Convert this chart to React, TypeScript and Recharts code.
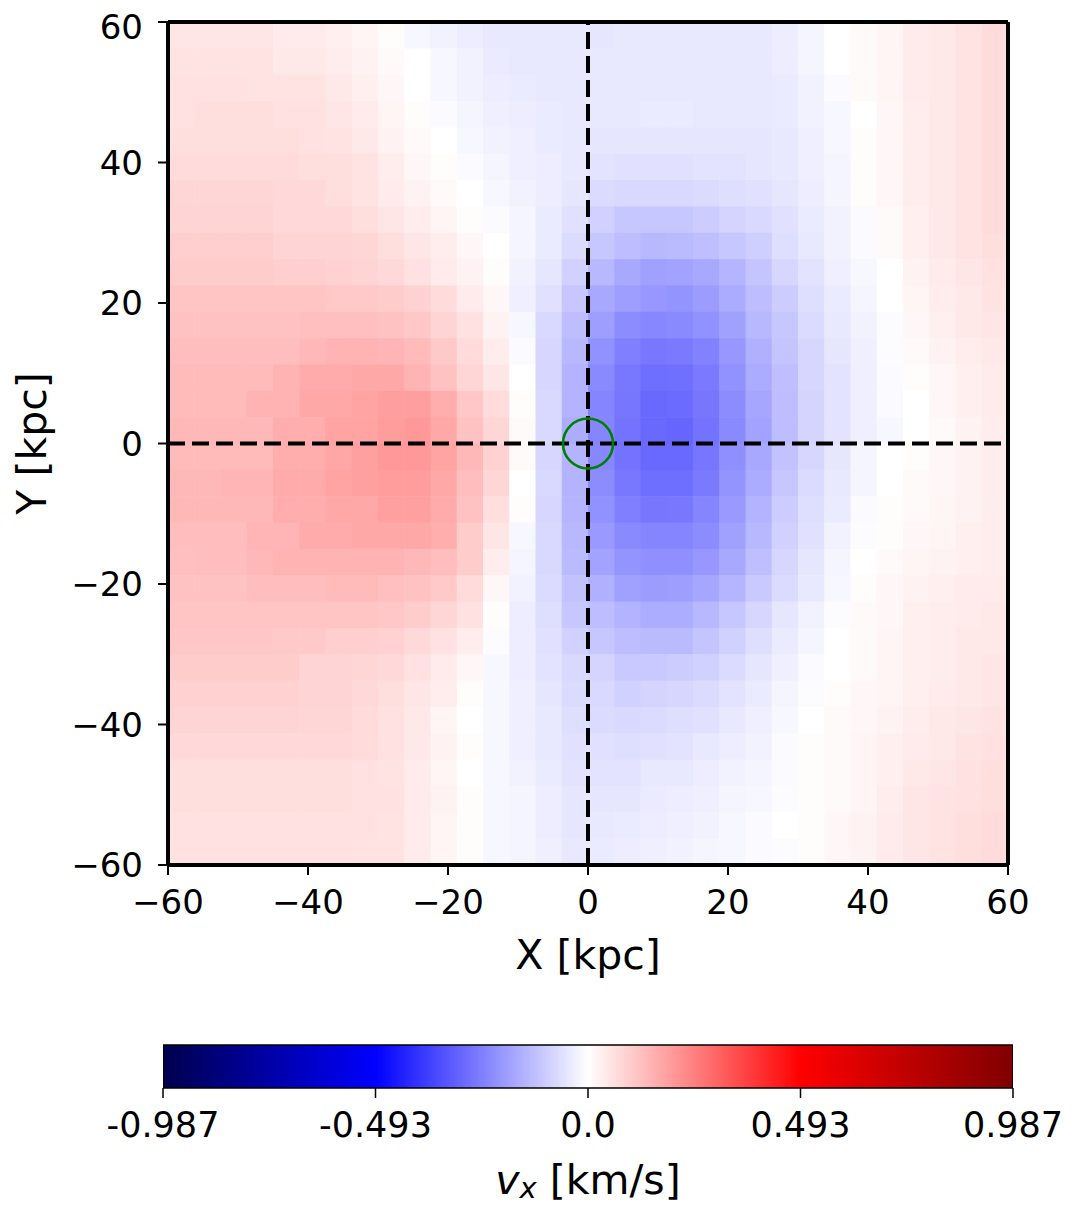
import React from 'react';
import {
  ScatterChart,
  Scatter,
  ComposedChart,
  Bar,
  XAxis,
  YAxis,
  ReferenceLine,
  ReferenceDot,
  Label,
} from 'recharts';

const FONT = '"DejaVu Sans", "Liberation Sans", sans-serif';

// colour limits of the map (km/s)
const V_LIM = 0.987;

// axis ticks (kpc)
const axisTicks = [-60, -40, -20, 0, 20, 40, 60];

// colorbar ticks
const cbTicks = [-0.987, -0.4935, 0, 0.4935, 0.987];
const cbTickLabels = ['-0.987', '-0.493', '0.0', '0.493', '0.987'];
const cbRange = [{ name: 'vx', range: [-0.987, 0.987] }];

// v_x map in m/s, 32 x 32 bins, first row is the top (Y = +60), first column X = -60
const vxRows = [
  [49, 49, 49, 49, 39, 39, 30, 20, 5, -15, -25, -35, -44, -44, -44, -44, -49, -44, -44, -44, -44, -44, -44, -35, -20, 0, 10, 20, 39, 44, 54, 69],
  [54, 54, 54, 54, 44, 44, 35, 25, 10, 0, -15, -25, -39, -44, -44, -44, -44, -44, -44, -44, -44, -44, -44, -35, -20, 0, 10, 20, 39, 44, 54, 69],
  [59, 59, 59, 54, 54, 54, 44, 30, 15, 0, -15, -25, -35, -39, -44, -44, -44, -44, -44, -44, -44, -44, -44, -39, -25, -10, 10, 20, 39, 44, 54, 69],
  [59, 64, 64, 64, 59, 59, 49, 39, 20, 5, -10, -20, -30, -35, -39, -44, -44, -44, -39, -39, -44, -44, -44, -39, -25, -15, 0, 15, 35, 44, 54, 69],
  [64, 64, 64, 64, 64, 59, 54, 44, 25, 10, 0, -15, -25, -30, -39, -44, -49, -49, -49, -49, -49, -49, -49, -44, -30, -15, 5, 15, 35, 44, 54, 69],
  [69, 69, 69, 69, 69, 64, 64, 54, 35, 15, 5, -10, -20, -30, -35, -44, -54, -59, -59, -59, -54, -54, -49, -44, -30, -20, 5, 15, 35, 44, 54, 69],
  [79, 79, 79, 79, 74, 74, 64, 54, 39, 25, 10, 0, -15, -25, -35, -49, -69, -74, -74, -74, -69, -64, -59, -49, -35, -20, 5, 15, 35, 44, 54, 69],
  [84, 84, 84, 84, 74, 74, 74, 64, 49, 35, 20, 5, -10, -20, -39, -59, -89, -109, -109, -109, -99, -84, -74, -59, -39, -25, -10, 10, 30, 44, 54, 69],
  [94, 94, 94, 94, 84, 84, 84, 79, 64, 49, 35, 15, 0, -20, -39, -69, -109, -128, -138, -133, -123, -109, -94, -64, -44, -25, -10, 10, 30, 44, 54, 64],
  [99, 99, 99, 99, 94, 94, 89, 84, 74, 59, 39, 25, 5, -25, -49, -89, -138, -168, -183, -178, -168, -143, -114, -79, -54, -30, -15, 0, 25, 39, 49, 59],
  [114, 114, 114, 114, 114, 114, 104, 104, 99, 89, 69, 39, 15, -30, -59, -109, -168, -188, -202, -207, -192, -163, -128, -99, -64, -39, -20, 0, 20, 35, 44, 54],
  [118, 118, 118, 118, 118, 123, 123, 123, 118, 109, 84, 59, 25, -15, -74, -128, -188, -222, -232, -227, -212, -183, -138, -109, -69, -44, -25, -5, 15, 30, 44, 49],
  [128, 128, 128, 128, 128, 138, 148, 148, 143, 133, 104, 69, 35, -10, -79, -138, -212, -247, -262, -257, -242, -202, -153, -114, -79, -49, -30, -5, 10, 25, 35, 44],
  [133, 133, 133, 133, 148, 163, 163, 168, 168, 148, 118, 79, 49, 0, -79, -148, -227, -262, -281, -276, -257, -212, -163, -123, -79, -54, -30, -10, 5, 15, 30, 39],
  [133, 133, 133, 148, 148, 168, 168, 178, 188, 188, 158, 109, 69, 5, -74, -148, -237, -266, -291, -286, -266, -222, -173, -128, -84, -54, -30, -10, 0, 15, 30, 39],
  [138, 138, 138, 138, 158, 158, 178, 178, 192, 197, 168, 118, 79, 10, -74, -158, -237, -271, -291, -296, -271, -227, -178, -128, -84, -54, -30, -15, 0, 10, 25, 35],
  [133, 133, 133, 133, 158, 158, 173, 183, 197, 197, 178, 138, 89, 10, -79, -148, -232, -271, -291, -291, -266, -217, -168, -118, -79, -49, -20, 0, 5, 15, 25, 35],
  [138, 138, 143, 143, 163, 163, 178, 183, 192, 192, 168, 128, 79, 0, -74, -148, -222, -262, -281, -281, -257, -207, -163, -109, -69, -44, -20, 0, 10, 15, 25, 35],
  [138, 138, 138, 138, 158, 158, 168, 168, 183, 183, 163, 118, 64, 5, -79, -143, -212, -247, -266, -262, -237, -197, -148, -99, -64, -39, -10, 5, 10, 20, 25, 35],
  [128, 128, 128, 143, 143, 163, 163, 168, 168, 168, 158, 99, 49, -15, -74, -138, -197, -227, -237, -237, -222, -183, -138, -89, -59, -25, -5, 5, 15, 20, 30, 35],
  [123, 128, 128, 138, 148, 148, 148, 148, 148, 138, 128, 99, 35, -20, -74, -133, -178, -207, -217, -217, -202, -168, -123, -79, -49, -20, 0, 10, 20, 25, 30, 35],
  [118, 118, 118, 128, 128, 128, 133, 133, 123, 118, 104, 69, 15, -25, -69, -118, -153, -183, -192, -188, -173, -143, -104, -69, -44, -15, 5, 15, 25, 30, 39, 39],
  [114, 114, 114, 114, 114, 114, 114, 114, 109, 99, 79, 59, 5, -35, -64, -109, -128, -148, -158, -158, -138, -109, -79, -49, -25, -5, 10, 15, 30, 35, 39, 44],
  [109, 109, 109, 109, 104, 104, 94, 94, 89, 74, 59, 35, -5, -35, -59, -89, -109, -128, -133, -133, -114, -89, -64, -39, -20, 0, 10, 20, 30, 35, 44, 44],
  [99, 99, 99, 99, 99, 84, 84, 79, 74, 59, 39, 15, -15, -35, -54, -74, -84, -104, -104, -99, -89, -69, -49, -30, -10, 0, 10, 20, 30, 35, 44, 49],
  [89, 89, 89, 89, 89, 84, 84, 74, 64, 49, 35, 5, -15, -30, -49, -69, -74, -89, -84, -79, -69, -54, -39, -20, -5, 5, 15, 20, 30, 39, 44, 49],
  [84, 84, 84, 84, 84, 79, 79, 69, 59, 44, 20, 0, -15, -30, -44, -64, -69, -74, -69, -64, -59, -44, -30, -15, 0, 10, 15, 25, 35, 44, 49, 54],
  [74, 74, 74, 74, 74, 74, 74, 69, 59, 44, 25, 5, -15, -30, -44, -59, -59, -64, -59, -54, -44, -35, -25, -10, 5, 10, 20, 30, 39, 44, 54, 59],
  [64, 64, 64, 64, 64, 64, 64, 59, 54, 39, 20, 0, -15, -25, -39, -54, -54, -54, -44, -44, -35, -25, -20, -10, 5, 10, 20, 30, 44, 49, 59, 64],
  [64, 64, 64, 64, 64, 64, 64, 59, 59, 39, 25, 5, -15, -20, -35, -49, -49, -49, -39, -35, -30, -20, -15, -5, 5, 10, 20, 35, 49, 54, 59, 64],
  [59, 59, 59, 59, 59, 59, 59, 59, 54, 39, 20, 5, -15, -20, -35, -49, -44, -39, -35, -30, -25, -15, -10, 0, 5, 15, 25, 39, 49, 54, 64, 69],
  [59, 59, 59, 59, 59, 59, 59, 54, 54, 39, 20, 5, -15, -20, -30, -44, -39, -35, -30, -25, -20, -15, -10, -5, 5, 15, 25, 39, 49, 54, 64, 69],
];

const N_BINS = vxRows.length;
const binCenters = Array.from({ length: N_BINS }, (_, i) => -60 + ((i + 0.5) * 120) / N_BINS);

const cells = vxRows.flatMap((row, r) =>
  row.map((v, c) => ({ x: binCenters[c], y: binCenters[N_BINS - 1 - r], vx: v / 1000 }))
);

// matplotlib "seismic"
const SEISMIC = [
  [0, 0, 0.3],
  [0, 0, 1],
  [1, 1, 1],
  [1, 0, 0],
  [0.5, 0, 0],
];

function seismic(v: number) {
  const t = Math.min(1, Math.max(0, (v + V_LIM) / (2 * V_LIM)));
  const p = t * 4;
  const i = Math.min(3, Math.floor(p));
  const f = p - i;
  const a = SEISMIC[i];
  const b = SEISMIC[i + 1];
  const ch = (k: number) => Math.round(255 * (a[k] + (b[k] - a[k]) * f));
  return `rgb(${ch(0)},${ch(1)},${ch(2)})`;
}

// main chart geometry
const W = 1040;
const H = 980;
const M = { top: 14, right: 40, bottom: 0, left: 0 };
const Y_AXIS_W = 160;
const X_AXIS_H = 123;
const CELL_W = (W - M.left - M.right - Y_AXIS_W) / N_BINS;
const CELL_H = (H - M.top - M.bottom - X_AXIS_H) / N_BINS;

const fmtKpc = (v: number) => String(v).replace('-', '\u2212');

function HeatCell(props: any) {
  const { cx, cy, payload } = props;
  if (cx == null || cy == null) return null;
  return (
    <rect
      x={cx - CELL_W / 2}
      y={cy - CELL_H / 2}
      width={CELL_W + 0.6}
      height={CELL_H + 0.6}
      fill={seismic(payload.vx)}
    />
  );
}

const tickStyle = { fill: '#000', fontSize: 34, fontFamily: FONT };

export default function App() {
  return (
    <div style={{ width: 1061, fontFamily: FONT }}>
      <ScatterChart width={W} height={H} margin={M}>
        <XAxis
          type="number"
          dataKey="x"
          domain={[-60, 60]}
          ticks={axisTicks}
          allowDataOverflow
          height={X_AXIS_H}
          tick={tickStyle}
          tickFormatter={fmtKpc}
          tickSize={10}
          tickMargin={15}
          tickLine={{ stroke: '#000', strokeWidth: 2 }}
          axisLine={{ stroke: '#000', strokeWidth: 3.5 }}
        >
          <Label
            content={({ viewBox }: any) => (
              <text
                x={viewBox.x + viewBox.width / 2}
                y={viewBox.y + 90}
                textAnchor="middle"
                dominantBaseline="central"
                fontSize={41}
                fontFamily={FONT}
                fill="#000"
              >
                X [kpc]
              </text>
            )}
          />
        </XAxis>
        <YAxis
          type="number"
          dataKey="y"
          domain={[-60, 60]}
          ticks={axisTicks}
          allowDataOverflow
          width={Y_AXIS_W}
          tick={tickStyle}
          tickFormatter={fmtKpc}
          tickSize={10}
          tickMargin={15}
          tickLine={{ stroke: '#000', strokeWidth: 2 }}
          axisLine={{ stroke: '#000', strokeWidth: 3.5 }}
        >
          <Label
            content={({ viewBox }: any) => {
              const cx = viewBox.x + 24;
              const cy = viewBox.y + viewBox.height / 2;
              return (
                <text
                  x={cx}
                  y={cy}
                  transform={`rotate(-90 ${cx} ${cy})`}
                  textAnchor="middle"
                  dominantBaseline="central"
                  fontSize={41}
                  fontFamily={FONT}
                  fill="#000"
                >
                  Y [kpc]
                </text>
              );
            }}
          />
        </YAxis>
        <Scatter data={cells} shape={HeatCell} isAnimationActive={false} />
        <ReferenceLine y={0} stroke="#000" strokeWidth={4} strokeDasharray="17 7" zIndex={1000} />
        <ReferenceLine x={0} stroke="#000" strokeWidth={4} strokeDasharray="17 7" zIndex={1000} />
        <ReferenceDot x={0} y={0} r={25} fill="none" stroke="#008000" strokeWidth={2.6} zIndex={1000} />
        <ReferenceLine y={60} stroke="#000" strokeWidth={4} zIndex={1000} />
        <ReferenceLine y={-60} stroke="#000" strokeWidth={4} zIndex={1000} />
        <ReferenceLine x={-60} stroke="#000" strokeWidth={4} zIndex={1000} />
        <ReferenceLine x={60} stroke="#000" strokeWidth={4} zIndex={1000} />
      </ScatterChart>

      <ComposedChart
        width={1061}
        height={222}
        layout="vertical"
        data={cbRange}
        barCategoryGap={0}
        margin={{ top: 57, right: 56, left: 155, bottom: 0 }}
      >
        <defs>
          <linearGradient id="seismicGrad" x1="0" y1="0" x2="1" y2="0">
            {SEISMIC.map((c, i) => (
              <stop
                key={i}
                offset={`${i * 25}%`}
                stopColor={`rgb(${c.map((k) => Math.round(k * 255)).join(',')})`}
              />
            ))}
          </linearGradient>
        </defs>
        <XAxis
          type="number"
          domain={[-V_LIM, V_LIM]}
          ticks={cbTicks}
          allowDataOverflow
          height={122}
          tick={{ fill: '#000', fontSize: 35, fontFamily: FONT }}
          tickFormatter={(_: number, i: number) => cbTickLabels[i]}
          tickSize={10}
          tickMargin={14}
          tickLine={{ stroke: '#000', strokeWidth: 1.5 }}
          axisLine={false}
        >
          <Label
            content={({ viewBox }: any) => (
              <text
                x={viewBox.x + viewBox.width / 2}
                y={viewBox.y + 92}
                textAnchor="middle"
                dominantBaseline="central"
                fontSize={41}
                fontFamily={FONT}
                fill="#000"
              >
                <tspan fontStyle="italic">v</tspan>
                <tspan fontStyle="italic" fontSize={29} dy={8}>
                  x
                </tspan>
                <tspan dy={-8}> [km/s]</tspan>
              </text>
            )}
          />
        </XAxis>
        <YAxis type="category" dataKey="name" hide />
        <Bar
          dataKey="range"
          fill="url(#seismicGrad)"
          stroke="#000"
          strokeWidth={1.5}
          isAnimationActive={false}
        />
      </ComposedChart>
    </div>
  );
}
